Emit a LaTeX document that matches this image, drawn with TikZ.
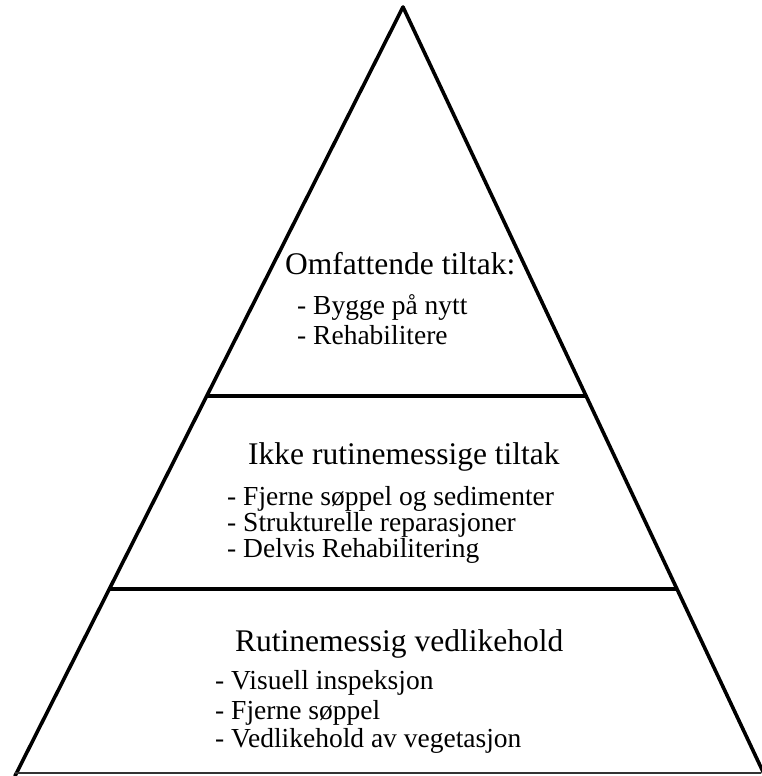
\documentclass[tikz,border=0pt]{standalone}
\usepackage{fontspec}
\setmainfont{Liberation Serif}
\usetikzlibrary{positioning,calc}
\tikzset{
    side/.style={line width=3.6pt, line cap=round, line join=round},
    floorline/.style={line width=3.6pt},
    baseline line/.style={line width=1.5pt, draw=black!80},
    head/.style={inner sep=0pt, anchor=base west, font=\fontsize{31.5}{36}\selectfont},
    item/.style={inner sep=0pt, anchor=base west, font=\fontsize{27.5}{32}\selectfont}
}
\begin{document}
\begin{tikzpicture}[x=1pt, y=1pt]
    \useasboundingbox (0,0) rectangle (761,776);
    \coordinate (apex) at (403,769);
    \coordinate (bl) at (15,0);
    \coordinate (br) at (765,0);
    % sides and base
    \draw[side] (bl) -- (apex) -- (br);
    \draw[baseline line] (15,3) coordinate (b0) -- (761,3) coordinate (b1);
    % level lines
    \draw[floorline] ($(apex)!0.506!(bl)$) coordinate (l1) -- ($(apex)!0.506!(br)$) coordinate (r1);
    \draw[floorline] ($(apex)!0.757!(bl)$) coordinate (l2) -- ($(apex)!0.757!(br)$) coordinate (r2);
    % top level
    \node[head] (omf) at (285,501) {Omfattende tiltak:};
    \foreach \t/\y [count=\i] in {Bygge på nytt/461, Rehabilitere/431}
        \node[item] (omf\i) at (297,\y) {- \t};
    % middle level
    \node[head] (ikke) at (248,311) {Ikke rutinemessige tiltak};
    \foreach \t/\y [count=\i] in {Fjerne søppel og sedimenter/270, Strukturelle reparasjoner/244, Delvis Rehabilitering/218}
        \node[item] (ikke\i) at (227,\y) {- \t};
    % bottom level
    \node[head] (rut) at (235,124) {Rutinemessig vedlikehold};
    \foreach \t/\y [count=\i] in {Visuell inspeksjon/86, Fjerne søppel/56, Vedlikehold av vegetasjon/28}
        \node[item] (rut\i) at (215,\y) {- \t};
\end{tikzpicture}
\end{document}
